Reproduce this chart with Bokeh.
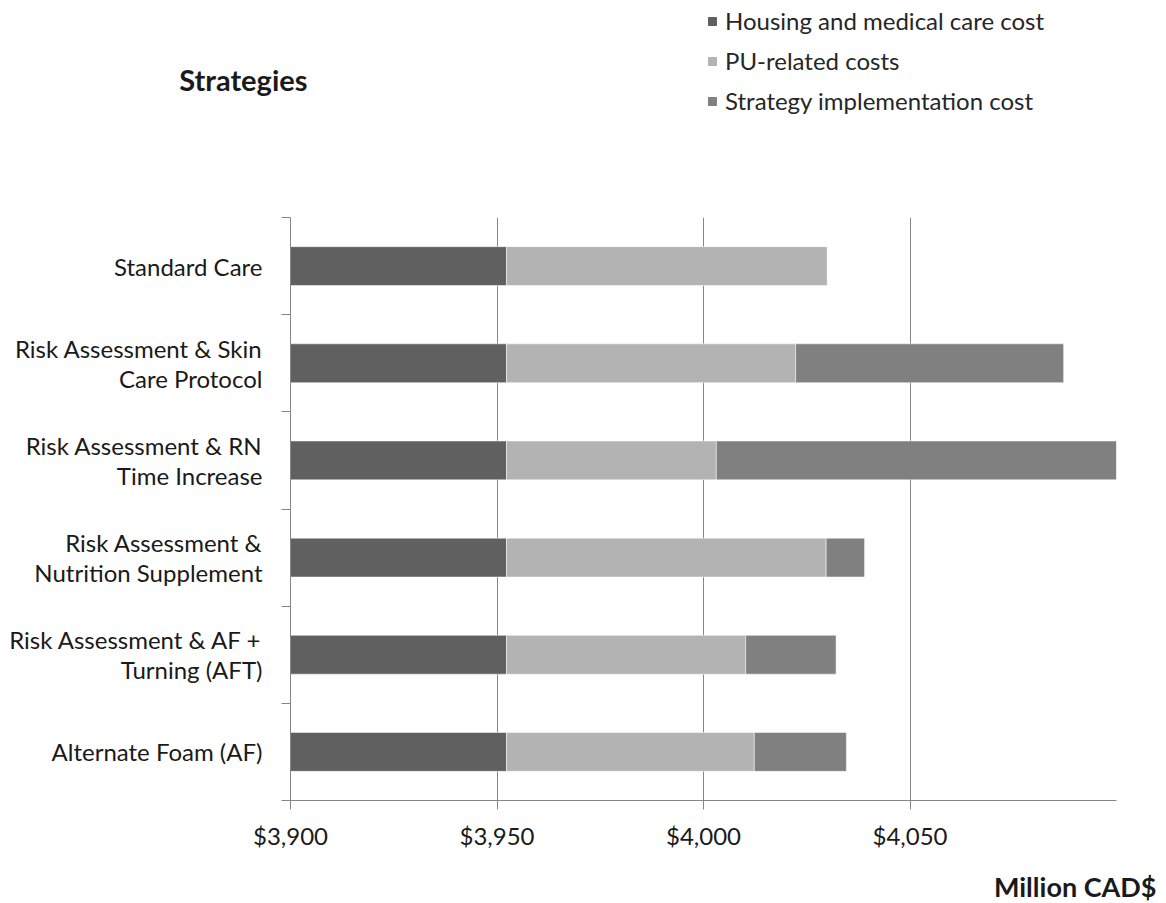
from bokeh.plotting import figure
from bokeh.layouts import column
from bokeh.models import ColumnDataSource, FixedTicker, Range1d, Legend, Title
from bokeh.embed import file_html
from bokeh.resources import INLINE

# ---- data (top to bottom as drawn) ----
categories = [
    "Standard Care",
    "Risk Assessment & Skin\nCare Protocol",
    "Risk Assessment & RN\nTime Increase",
    "Risk Assessment &\nNutrition Supplement",
    "Risk Assessment & AF +\nTurning (AFT)",
    "Alternate Foam (AF)",
]
housing = [3952.3, 3952.3, 3952.3, 3952.3, 3952.3, 3952.3]
pu_costs = [77.7, 70.0, 50.8, 77.4, 57.9, 60.0]
implementation = [0.0, 64.9, 97.4, 9.3, 21.9, 22.3]
series_names = ["Housing and medical care cost", "PU-related costs", "Strategy implementation cost"]
colors = ["#606060", "#b3b3b3", "#808080"]
x_ticks = [3900, 3950, 4000, 4050]
x_tick_labels = ["$3,900", "$3,950", "$4,000", "$4,050"]

n = len(categories)
ypos = [n - i - 0.5 for i in range(n)]

FONT = "Lato"
TXT = "#1a1a1a"

src = ColumnDataSource(dict(y=ypos, housing=housing, pu=pu_costs, impl=implementation))

# ---------------- header: legend + "Strategies" ----------------
head = figure(width=1166, height=217, output_backend="svg", toolbar_location=None,
              x_range=Range1d(3900, 4100), y_range=Range1d(0, n),
              min_border_left=290, min_border_right=50, min_border_top=0, min_border_bottom=59,
              frame_width=826, frame_height=158, x_axis_location=None)
head.outline_line_color = None
head.xgrid.visible = False
head.ygrid.visible = False
head.yaxis.ticker = FixedTicker(ticks=[])
head.yaxis.axis_line_color = None
head.yaxis.major_tick_line_color = None
head.yaxis.minor_tick_line_color = None
head.yaxis.axis_label = "Strategies"
head.yaxis.axis_label_orientation = "horizontal"
head.yaxis.axis_label_standoff = -17
head.yaxis.axis_label_text_font = FONT
head.yaxis.axis_label_text_font_style = "bold"
head.yaxis.axis_label_text_font_size = "29px"
head.yaxis.axis_label_text_color = TXT

# hidden copies of the series: they only feed the legend glyphs
legend_rs = head.hbar_stack(["housing", "pu", "impl"], y="y", height=0.4, color=colors,
                            source=src, visible=False)

legend = Legend(items=[(series_names[i], [legend_rs[i]]) for i in range(3)])
legend.location = (417, 43)
legend.padding = 0
legend.margin = 0
legend.spacing = 11
legend.glyph_width = 10
legend.glyph_height = 10
legend.label_height = 24
legend.label_standoff = 8
legend.border_line_alpha = 0
legend.background_fill_alpha = 0
legend.inactive_fill_alpha = 0
legend.label_text_font = FONT
legend.label_text_font_size = "24px"
legend.label_text_color = "#262626"
head.add_layout(legend, "center")

# ---------------- main chart ----------------
p = figure(width=1166, height=686, output_backend="svg", toolbar_location=None,
           x_range=Range1d(3900, 4100), y_range=Range1d(0, n),
           min_border_left=290, min_border_right=50, min_border_top=0, min_border_bottom=103,
           frame_width=826, frame_height=583)
p.outline_line_color = None

p.hbar_stack(["housing", "pu", "impl"], y="y", height=0.4, color=colors, source=src,
             line_color="white", line_alpha=0.5, line_width=1)

# x axis
p.xaxis.ticker = FixedTicker(ticks=x_ticks)
p.xaxis.major_label_overrides = {t: l for t, l in zip(x_ticks, x_tick_labels)}
p.xaxis.axis_line_color = "#868686"
p.xaxis.major_tick_line_color = "#868686"
p.xaxis.major_tick_out = 9
p.xaxis.major_tick_in = 0
p.xaxis.minor_tick_line_color = None
p.xaxis.major_label_standoff = 11
p.xaxis.major_label_text_font = FONT
p.xaxis.major_label_text_font_size = "24px"
p.xaxis.major_label_text_color = TXT

# y axis: labels at centres, tick marks at category boundaries
p.yaxis.ticker = FixedTicker(ticks=ypos, minor_ticks=list(range(n + 1)))
p.yaxis.major_label_overrides = {y: c for y, c in zip(ypos, categories)}
p.yaxis.axis_line_color = "#868686"
p.yaxis.major_tick_line_color = None
p.yaxis.major_tick_out = 0
p.yaxis.major_tick_in = 0
p.yaxis.minor_tick_line_color = "#868686"
p.yaxis.minor_tick_out = 9
p.yaxis.minor_tick_in = 0
p.yaxis.major_label_standoff = 19
p.yaxis.major_label_text_font = FONT
p.yaxis.major_label_text_font_size = "24px"
p.yaxis.major_label_text_line_height = 1.03
p.yaxis.major_label_text_color = TXT

p.ygrid.grid_line_color = None
p.xgrid.grid_line_color = "#868686"
p.xgrid.ticker = FixedTicker(ticks=x_ticks[1:])

p.add_layout(Title(text="Million CAD$", align="right", offset=-40, standoff=30,
                   text_font=FONT, text_font_style="bold", text_font_size="27px",
                   text_color=TXT), "below")

layout = column(head, p, spacing=0)
open("out.html", "w").write(file_html(layout, INLINE))
